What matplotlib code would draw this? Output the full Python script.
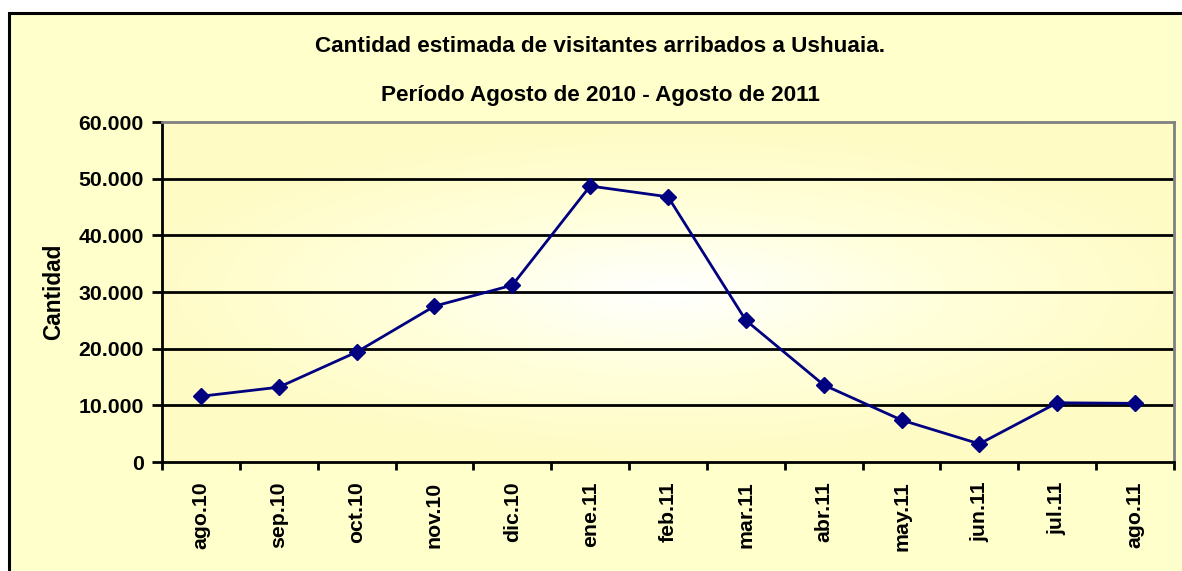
import numpy as np
import matplotlib
matplotlib.use("Agg")
import matplotlib.pyplot as plt
from matplotlib.patches import Rectangle
from matplotlib.colors import LinearSegmentedColormap

months = ["ago.10", "sep.10", "oct.10", "nov.10", "dic.10", "ene.11", "feb.11",
          "mar.11", "abr.11", "may.11", "jun.11", "jul.11", "ago.11"]
visitors = [11600, 13200, 19400, 27500, 31200, 48700, 46800,
            25000, 13600, 7400, 3200, 10450, 10350]
yticks = [0, 10000, 20000, 30000, 40000, 50000, 60000]
ytick_labels = ["0", "10.000", "20.000", "30.000", "40.000", "50.000", "60.000"]

plt.rcParams['font.family'] = ['Liberation Sans', 'DejaVu Sans']
W, H = 1182, 571
fig = plt.figure(figsize=(W/100, H/100), dpi=100)
fig.patch.set_facecolor('white')

# outer frame background
frame = Rectangle((9/W, -0.02), 1.05, 1 - 13/H + 0.02, transform=fig.transFigure,
                  facecolor='#FFFFCC', edgecolor='black', linewidth=2.2, zorder=-5)
fig.patches.append(frame)

ax = fig.add_axes([162/W, 1 - 462/H, (1174-162)/W, (462-122)/H])
ax.set_zorder(2)
ax.set_facecolor('#FFFFC8')

# radial gradient background in the plot area
nx, ny = 400, 200
xx, yy = np.meshgrid(np.linspace(-1, 1, nx), np.linspace(-1, 1, ny))
r = np.sqrt((xx*0.9)**2 + (yy*1.0)**2)
r = np.clip(r, 0, 1)
cmap = LinearSegmentedColormap.from_list('g', ['#FFFFFF', '#FFFFDA', '#FFFBC4'])
ax.imshow(r, cmap=cmap, extent=[0, 1, 0, 1], transform=ax.transAxes,
          aspect='auto', zorder=0, vmin=0, vmax=1)

x = np.arange(len(months))
ax.plot(x, visitors, color='#000080', linewidth=2, marker='D', markersize=8,
        markerfacecolor='#000080', markeredgecolor='#000080', zorder=3)

ax.set_xlim(-0.5, len(months) - 0.5)
ax.set_ylim(0, 60000)
ax.set_yticks(yticks)
ax.set_yticklabels(ytick_labels, fontsize=15.3, fontweight='bold')
ax.set_xticks(x)
ax.set_xticklabels(months, rotation=90, fontsize=15.3, fontweight='bold')
ax.tick_params(axis='x', which='major', length=0, pad=14)
ax.set_xticks(np.arange(-0.5, len(months), 1), minor=True)
ax.tick_params(axis='x', which='minor', length=6, width=2, direction='out', color='black')
ax.tick_params(axis='y', length=7, width=2, direction='out', pad=6)

for yv in yticks[1:-1]:
    ax.axhline(yv, color='black', linewidth=2, zorder=2)

ax.spines['left'].set_linewidth(2)
ax.spines['bottom'].set_linewidth(2)
ax.spines['left'].set_color('black')
ax.spines['bottom'].set_color('black')
ax.spines['top'].set_color('#808080')
ax.spines['right'].set_color('#808080')
ax.spines['top'].set_linewidth(2)
ax.spines['right'].set_linewidth(2)

ax.set_ylabel("Cantidad", fontsize=16.3, fontweight='bold', labelpad=10)

fig.text(600/W, 1 - 46/H, "Cantidad estimada de visitantes arribados a Ushuaia.",
         ha='center', va='center', fontsize=16.2, fontweight='bold')
fig.text(600/W, 1 - 95/H, "Período Agosto de 2010 - Agosto de 2011",
         ha='center', va='center', fontsize=16.2, fontweight='bold')

fig.savefig("out.png", dpi=100, facecolor=fig.get_facecolor())
